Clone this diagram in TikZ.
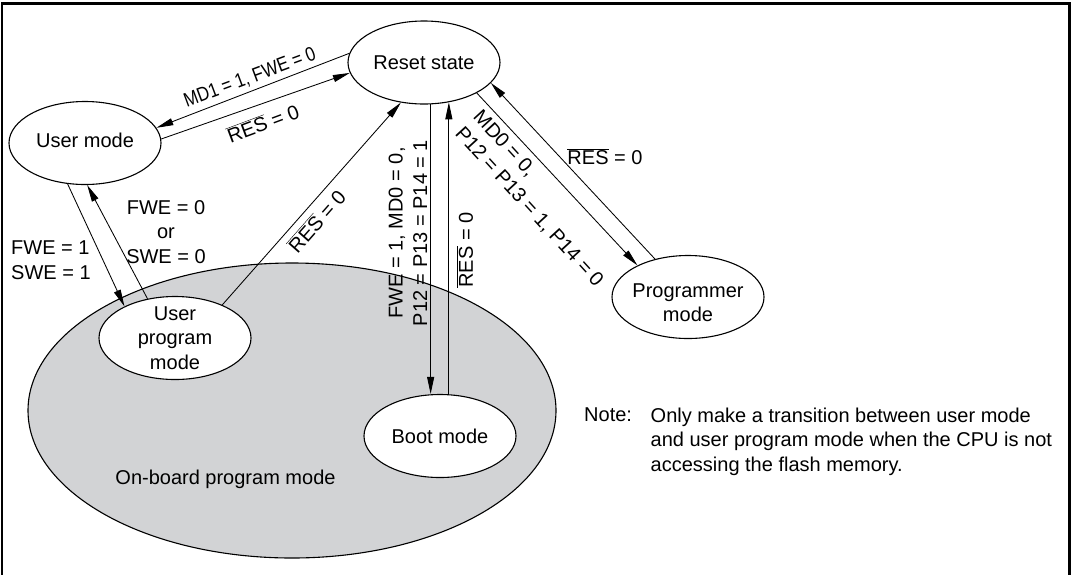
\documentclass[tikz,border=0pt]{standalone}
\usepackage{fontspec}
\usepackage{graphicx}
\setmainfont{Liberation Sans}
\usetikzlibrary{arrows.meta,shapes.geometric}
\definecolor{boardgray}{RGB}{210,211,213}
\newcommand{\ovl}[1]{$\overline{\mbox{#1}}$}
\begin{document}
\begin{tikzpicture}[x=1pt,y=-1pt,
  txt/.style={inner sep=0pt,font=\fontsize{20}{24.5}\selectfont},
  state/.style={ellipse,draw,line width=1.1pt,fill=white,minimum width=152pt,minimum height=83pt,inner sep=0pt},
  conn/.style={line width=0.85pt},
  arr/.style={conn,-{Triangle[length=17pt,width=7pt]}}]
\useasboundingbox (0,0) rectangle (1073,574);
% frame (bottom edge lies outside the picture)
\draw[line width=2.7pt] (2,600) -- (2,3.2) -- (1069.7,3.2) -- (1069.7,600);

% on-board region
\node[ellipse,draw,line width=1.1pt,fill=boardgray,minimum width=528pt,minimum height=295pt,inner sep=0pt] (board) at (292,410.5) {};
\node[txt] (boardtxt) at (225.5,479) {On-board program mode};

% states
\node[state,label={[txt]center:Reset state}] (reset) at (424,62.5) {};
\node[state,label={[txt,yshift=3pt]center:User mode}] (user) at (85,143) {};
\node[state,label={[txt,align=center]center:User\\program\\mode}] (upm) at (175,338) {};
\node[state,label={[txt]center:Boot mode}] (boot) at (440,436) {};
\node[state,label={[txt,align=center,yshift=-5.5pt]center:Programmer\\mode}] (prog) at (688,297) {};

% connectors
\draw[arr] (reset.173) -- (user.12.5);
\draw[arr] (user.3) -- (reset.188);
\draw[arr] (user.247) -- (upm.148);
\draw[arr] (upm.125) -- (user.273);
\draw[arr] (upm.35) -- (reset.240);
\draw[arr] (reset.279.5) -- (reset.279.5 |- boot.north);
\draw[arr] (boot.north -| reset.302.5) -- (reset.302.5);
\draw[arr] (reset.330) -- (prog.148.7);
\draw[arr] (prog.131.9) -- (reset.343);

% labels
\node[txt,rotate=20.5] (l1) at (250,78) {\scalebox{0.84}[1]{MD1 = 1, FWE = 0}};
\node[txt,rotate=20.5] (l2) at (263,123) {\ovl{RES} = 0};
\node[txt,rotate=48.6] (l3) at (316.6,220.7) {\ovl{RES} = 0};
\node[txt,rotate=90,align=center] (l4) at (408,233) {FWE = 1, MD0 = 0,\\P12 = P13 = P14 = 1};
\node[txt,rotate=90] (l5) at (465,250) {\ovl{RES} = 0};
\node[txt,rotate=-47.5,align=left] (l6) at (538,199) {MD0 = 0,\\P12 = P13 = 1, P14 = 0};
\node[txt] (l7) at (605,157) {\ovl{RES} = 0};
\node[txt,align=left,anchor=west] (l8) at (11,260) {FWE = 1\\SWE = 1};
\node[txt,align=center] (l9) at (166,232) {FWE = 0\\or\\SWE = 0};

% note
\node[txt,anchor=north west] (notehead) at (584,407.5) {Note:};
\node[txt,anchor=north west,align=left] (notebody) at (650.5,407.5) {Only make a transition between user mode\\and user program mode when the CPU is not\\accessing the flash memory.};
\end{tikzpicture}
\end{document}
